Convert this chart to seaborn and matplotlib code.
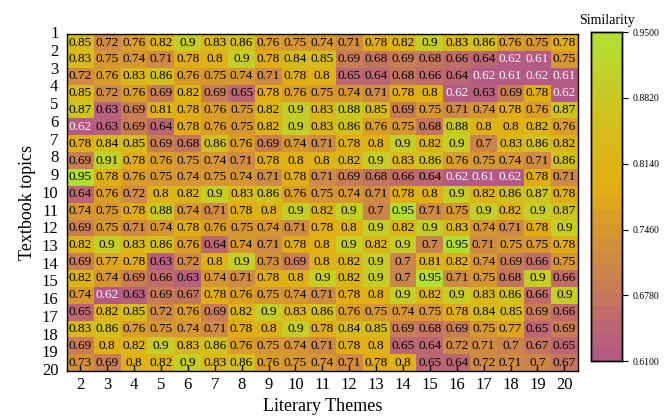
import numpy as np
import pandas as pd
import matplotlib.pyplot as plt
import seaborn as sns
from matplotlib.colors import LinearSegmentedColormap

# Similarity between textbook topics (rows) and literary themes (columns)
topics = [str(i) for i in range(1, 21)]
themes = [str(i) for i in range(2, 21)]

row_01 = [0.85, 0.72, 0.76, 0.82, 0.9, 0.83, 0.86, 0.76, 0.75, 0.74, 0.71, 0.78, 0.82, 0.9, 0.83, 0.86, 0.76, 0.75, 0.78]
row_02 = [0.83, 0.75, 0.74, 0.71, 0.78, 0.8, 0.9, 0.78, 0.84, 0.85, 0.69, 0.68, 0.69, 0.68, 0.66, 0.64, 0.62, 0.61, 0.75]
row_03 = [0.72, 0.76, 0.83, 0.86, 0.76, 0.75, 0.74, 0.71, 0.78, 0.8, 0.65, 0.64, 0.68, 0.66, 0.64, 0.62, 0.61, 0.62, 0.61]
row_04 = [0.85, 0.72, 0.76, 0.69, 0.82, 0.69, 0.65, 0.78, 0.76, 0.75, 0.74, 0.71, 0.78, 0.8, 0.62, 0.63, 0.69, 0.78, 0.62]
row_05 = [0.87, 0.63, 0.69, 0.81, 0.78, 0.76, 0.75, 0.82, 0.9, 0.83, 0.88, 0.85, 0.69, 0.75, 0.71, 0.74, 0.78, 0.76, 0.87]
row_06 = [0.62, 0.63, 0.69, 0.64, 0.78, 0.76, 0.75, 0.82, 0.9, 0.83, 0.86, 0.76, 0.75, 0.68, 0.88, 0.8, 0.8, 0.82, 0.76]
row_07 = [0.78, 0.84, 0.85, 0.69, 0.68, 0.86, 0.76, 0.69, 0.74, 0.71, 0.78, 0.8, 0.9, 0.82, 0.9, 0.7, 0.83, 0.86, 0.82]
row_08 = [0.69, 0.91, 0.78, 0.76, 0.75, 0.74, 0.71, 0.78, 0.8, 0.8, 0.82, 0.9, 0.83, 0.86, 0.76, 0.75, 0.74, 0.71, 0.86]
row_09 = [0.95, 0.78, 0.76, 0.75, 0.74, 0.75, 0.74, 0.71, 0.78, 0.71, 0.69, 0.68, 0.66, 0.64, 0.62, 0.61, 0.62, 0.78, 0.71]
row_10 = [0.64, 0.76, 0.72, 0.8, 0.82, 0.9, 0.83, 0.86, 0.76, 0.75, 0.74, 0.71, 0.78, 0.8, 0.9, 0.82, 0.86, 0.87, 0.78]
row_11 = [0.74, 0.75, 0.78, 0.88, 0.74, 0.71, 0.78, 0.8, 0.9, 0.82, 0.9, 0.7, 0.95, 0.71, 0.75, 0.9, 0.82, 0.9, 0.87]
row_12 = [0.69, 0.75, 0.71, 0.74, 0.78, 0.76, 0.75, 0.74, 0.71, 0.78, 0.8, 0.9, 0.82, 0.9, 0.83, 0.74, 0.71, 0.78, 0.9]
row_13 = [0.82, 0.9, 0.83, 0.86, 0.76, 0.64, 0.74, 0.71, 0.78, 0.8, 0.9, 0.82, 0.9, 0.7, 0.95, 0.71, 0.75, 0.75, 0.78]
row_14 = [0.69, 0.77, 0.78, 0.63, 0.72, 0.8, 0.9, 0.73, 0.69, 0.8, 0.82, 0.9, 0.7, 0.81, 0.82, 0.74, 0.69, 0.66, 0.75]
row_15 = [0.82, 0.74, 0.69, 0.66, 0.63, 0.74, 0.71, 0.78, 0.8, 0.9, 0.82, 0.9, 0.7, 0.95, 0.71, 0.75, 0.68, 0.9, 0.66]
row_16 = [0.74, 0.62, 0.63, 0.69, 0.67, 0.78, 0.76, 0.75, 0.74, 0.71, 0.78, 0.8, 0.9, 0.82, 0.9, 0.83, 0.86, 0.66, 0.9]
row_17 = [0.65, 0.82, 0.85, 0.72, 0.76, 0.69, 0.82, 0.9, 0.83, 0.86, 0.76, 0.75, 0.74, 0.75, 0.78, 0.84, 0.85, 0.69, 0.66]
row_18 = [0.83, 0.86, 0.76, 0.75, 0.74, 0.71, 0.78, 0.8, 0.9, 0.78, 0.84, 0.85, 0.69, 0.68, 0.69, 0.75, 0.77, 0.65, 0.69]
row_19 = [0.69, 0.8, 0.82, 0.9, 0.83, 0.86, 0.76, 0.75, 0.74, 0.71, 0.78, 0.8, 0.65, 0.64, 0.72, 0.71, 0.7, 0.67, 0.65]
row_20 = [0.73, 0.69, 0.8, 0.82, 0.9, 0.83, 0.86, 0.76, 0.75, 0.74, 0.71, 0.78, 0.8, 0.65, 0.64, 0.72, 0.71, 0.7, 0.67]

rows = [row_01, row_02, row_03, row_04, row_05, row_06, row_07, row_08, row_09, row_10,
        row_11, row_12, row_13, row_14, row_15, row_16, row_17, row_18, row_19, row_20]

cbar_ticks = [0.61, 0.678, 0.746, 0.814, 0.882, 0.95]

df = pd.DataFrame(rows, index=topics, columns=themes)

plt.rcParams['font.family'] = ['Liberation Serif', 'DejaVu Serif']

# pink -> orange -> gold -> lime, stepped like the original colorbar
vmin, vmax = 0.61, 0.95
nodes = [(0.61, '#b55a85'), (0.65, '#c06a6c'), (0.69, '#c9804f'), (0.73, '#d3913a'),
         (0.79, '#e2ae12'), (0.85, '#d6bc1a'), (0.90, '#c6cc26'), (0.95, '#b4de32')]
cmap = LinearSegmentedColormap.from_list(
    'sim', [((v - vmin) / (vmax - vmin), c) for v, c in nodes], N=24)

fig = plt.figure(figsize=(6.68, 4.17), dpi=100)
ax = fig.add_axes([0.100, 0.110, 0.765, 0.808])
cax = fig.add_axes([0.885, 0.134, 0.046, 0.789])

sns.heatmap(df, ax=ax, cbar_ax=cax, cmap=cmap, vmin=vmin, vmax=vmax,
            annot=True, fmt='g', annot_kws={'fontsize': 9.5})

for t in ax.texts:
    t.set_color('white' if float(t.get_text()) < 0.625 else 'black')

for s in ax.spines.values():
    s.set_visible(True)
    s.set_color('black')
    s.set_linewidth(1.0)

ax.set_yticks(np.linspace(0, 20, 20))
ax.set_yticklabels(topics, rotation=0, fontsize=12)
ax.tick_params(axis='y', length=0, pad=6)
ax.set_xticklabels(themes, rotation=0, fontsize=12)
ax.tick_params(axis='x', direction='in', length=4, width=1, pad=4)
ax.set_xlabel('Literary Themes', fontsize=13, labelpad=4)
ax.set_ylabel('Textbook topics', fontsize=13, labelpad=4)

cax.set_yticks(cbar_ticks)
cax.set_yticklabels([f'{v:.4f}' for v in cbar_ticks], fontsize=7)
cax.tick_params(length=4, width=0.8)
for s in cax.spines.values():
    s.set_visible(True)
    s.set_color('black')
    s.set_linewidth(1.0)
cax.set_title('Similarity', fontsize=10, pad=6)

fig.savefig('out.png', dpi=100)
